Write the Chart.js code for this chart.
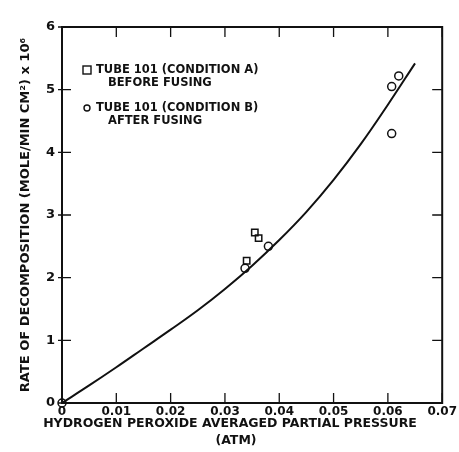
<!DOCTYPE html>
<html>
<head>
<meta charset="utf-8">
<script src="https://cdn.jsdelivr.net/npm/chart.js@4.4.0/dist/chart.umd.min.js"></script>
<style>
  html, body { margin: 0; padding: 0; background: #fff; }
  #wrap { width: 459px; height: 452px; }
</style>
</head>
<body>
<div id="wrap"><canvas id="myChart" width="459" height="452"></canvas></div>
<script>
// values
const conditionA = [
    { x: 0.0355, y: 2.72 },
    { x: 0.0362, y: 2.63 },
    { x: 0.0340, y: 2.27 },
]
const conditionB = [
    { x: 0.0, y: 0.0 },
    { x: 0.0380, y: 2.50 },
    { x: 0.0337, y: 2.15 },
    { x: 0.0607, y: 5.05 },
    { x: 0.0620, y: 5.22 },
    { x: 0.0607, y: 4.30 },
]
const fitCurve = [
    { x: 0.0, y: 0.0 },
    { x: 0.005, y: 0.28 },
    { x: 0.010, y: 0.57 },
    { x: 0.015, y: 0.87 },
    { x: 0.020, y: 1.17 },
    { x: 0.025, y: 1.48 },
    { x: 0.030, y: 1.82 },
    { x: 0.035, y: 2.19 },
    { x: 0.040, y: 2.60 },
    { x: 0.045, y: 3.05 },
    { x: 0.050, y: 3.56 },
    { x: 0.055, y: 4.13 },
    { x: 0.060, y: 4.76 },
    { x: 0.065, y: 5.42 },
]
const xTicks = [0, 0.01, 0.02, 0.03, 0.04, 0.05, 0.06, 0.07]
const yTicks = [0, 1, 2, 3, 4, 5, 6]
const legendLines = [
    ['TUBE 101 (CONDITION A)', 'BEFORE FUSING'],
    ['TUBE 101 (CONDITION B)', 'AFTER FUSING'],
]
const xTitle = ['HYDROGEN PEROXIDE AVERAGED PARTIAL PRESSURE', '(ATM)']

const FONT = '"DejaVu Sans", sans-serif'

const frame = {
    id: 'frame',
    afterDraw(chart) {
        const ctx = chart.ctx
        const a = chart.chartArea
        const xs = chart.scales.x
        const ys = chart.scales.y
        ctx.save()
        ctx.strokeStyle = '#111'
        ctx.lineWidth = 2
        ctx.strokeRect(a.left, a.top, a.right - a.left, a.bottom - a.top)

        // inward ticks on all four sides
        ctx.lineWidth = 1.3
        ctx.beginPath()
        xTicks.forEach((v) => {
            const px = xs.getPixelForValue(v)
            ctx.moveTo(px, a.bottom); ctx.lineTo(px, a.bottom - 10)
            ctx.moveTo(px, a.top); ctx.lineTo(px, a.top + 10)
        })
        yTicks.forEach((v) => {
            const py = ys.getPixelForValue(v)
            ctx.moveTo(a.left - 4, py); ctx.lineTo(a.left + 9, py)
            ctx.moveTo(a.right, py); ctx.lineTo(a.right - 10, py)
        })
        ctx.stroke()

        // legend inside the plot
        ctx.fillStyle = '#111'
        ctx.font = 'bold 11.5px ' + FONT
        ctx.textBaseline = 'middle'
        ctx.textAlign = 'left'
        const lx = a.left + 22
        const rows = [a.top + 43, a.top + 81]
        ctx.lineWidth = 1.4
        ctx.strokeRect(lx - 1, rows[0] - 4, 8, 8)
        ctx.beginPath()
        ctx.arc(lx + 3, rows[1], 3, 0, Math.PI * 2)
        ctx.stroke()
        legendLines.forEach((lines, i) => {
            ctx.fillText(lines[0], lx + 12, rows[i])
            ctx.fillText(lines[1], lx + 24, rows[i] + 13)
        })

        // x axis title
        ctx.textAlign = 'center'
        ctx.font = 'bold 12.5px ' + FONT
        ctx.fillText(xTitle[0], 230, 424)
        ctx.fillText(xTitle[1], 236, 441)
        ctx.restore()
    }
}

const ctx = document.getElementById('myChart').getContext('2d')

const config = {
    type: 'scatter',
    data: {
        datasets: [
            {
                label: 'Fit',
                type: 'line',
                data: fitCurve,
                borderColor: '#111',
                borderWidth: 2,
                pointRadius: 0,
                tension: 0.4,
                fill: false,
            },
            {
                label: legendLines[0].join(' '),
                data: conditionA,
                pointStyle: 'rect',
                pointRadius: 4.5,
                borderColor: '#111',
                borderWidth: 1.5,
                backgroundColor: 'rgba(0,0,0,0)',
                clip: false,
            },
            {
                label: legendLines[1].join(' '),
                data: conditionB,
                pointStyle: 'circle',
                pointRadius: 4,
                borderColor: '#111',
                borderWidth: 1.5,
                backgroundColor: 'rgba(0,0,0,0)',
                clip: false,
            },
        ]
    },
    options: {
        responsive: false,
        animation: false,
        layout: {
            padding: { top: 27, right: 10, left: 18, bottom: 0 }
        },
        plugins: {
            legend: { display: false },
            tooltip: { enabled: false },
        },
        scales: {
            x: {
                type: 'linear',
                min: 0,
                max: 0.07,
                afterBuildTicks: (scale) => { scale.ticks = xTicks.map((v) => ({ value: v })) },
                afterFit: (scale) => { scale.height = 49 },
                ticks: {
                    color: '#111',
                    font: { family: FONT, size: 12, weight: 'bold' },
                    padding: 2,
                    maxRotation: 0,
                    autoSkip: false,
                    callback: (v) => v === 0 ? '0' : v.toFixed(2),
                },
                grid: { display: false, drawTicks: false, tickLength: 0 },
                border: { display: false },
            },
            y: {
                min: 0,
                max: 6,
                afterBuildTicks: (scale) => { scale.ticks = yTicks.map((v) => ({ value: v })) },
                afterFit: (scale) => { scale.width = 44 },
                ticks: {
                    color: '#111',
                    font: { family: FONT, size: 13, weight: 'bold' },
                    padding: 7,
                },
                title: {
                    display: true,
                    text: 'RATE OF DECOMPOSITION (MOLE/MIN CM²) x 10⁶',
                    color: '#111',
                    font: { family: FONT, size: 13, weight: 'bold' },
                    padding: { top: 0, bottom: 0 },
                },
                grid: { display: false, drawTicks: false, tickLength: 0 },
                border: { display: false },
            },
        },
    },
    plugins: [frame],
}

const myChart = new Chart(ctx, config)
</script>
</body>
</html>
